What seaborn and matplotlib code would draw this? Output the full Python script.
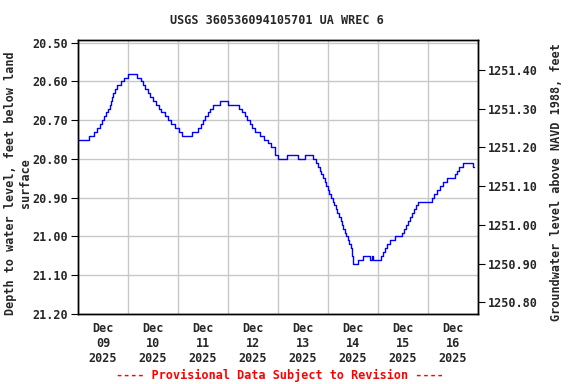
import numpy as np
import pandas as pd
import matplotlib
matplotlib.use("Agg")
import matplotlib.pyplot as plt
import matplotlib.dates as mdates
import seaborn as sns

# ---- data ----
start = "2025-12-09 00:00"
hours = [0, 5.42, 7.68, 9.12, 10.32, 11.38, 12.48, 13.44, 14.4, 15.12, 15.6, 16.18,
         16.8, 17.76, 18.72, 20.64, 22.08, 24.0, 28.32, 30.24, 31.2, 32.4, 33.36,
         34.56, 36.0, 37.44, 38.64, 40.08, 41.76, 43.2, 44.64, 46.56, 48.48, 49.92,
         54.58, 57.6, 59.04, 60.0, 60.96, 62.16, 63.36, 64.8, 68.16, 72.14, 77.28,
         78.72, 79.92, 81.12, 82.32, 83.52, 84.96, 87.36, 89.28, 91.2, 92.64, 94.56,
         95.76, 100.18, 105.74, 108.96, 113.04, 114.24, 115.2, 116.16, 116.88, 117.6,
         118.32, 119.04, 120.0, 120.72, 121.44, 122.16, 122.88, 123.84, 124.56,
         125.28, 126.0, 126.72, 127.34, 128.16, 128.88, 129.36, 130.08, 130.8,
         131.28, 131.52, 131.86, 132.0, 134.54, 136.66, 140.16, 141.12, 141.6,
         145.44, 146.4, 147.36, 148.32, 149.76, 152.16, 155.52, 156.48, 157.44,
         158.4, 159.36, 160.32, 161.28, 162.24, 163.34, 169.92, 170.88, 172.32,
         173.76, 175.2, 176.98, 180.96, 181.92, 182.88, 184.66, 189.46, 189.84]
depth = [20.75, 20.74, 20.73, 20.72, 20.71, 20.70, 20.69, 20.68, 20.67, 20.66, 20.65,
         20.64, 20.63, 20.62, 20.61, 20.60, 20.59, 20.58, 20.59, 20.60, 20.61, 20.62,
         20.63, 20.64, 20.65, 20.66, 20.67, 20.68, 20.69, 20.70, 20.71, 20.72, 20.73,
         20.74, 20.73, 20.72, 20.71, 20.70, 20.69, 20.68, 20.67, 20.66, 20.65, 20.66,
         20.67, 20.68, 20.69, 20.70, 20.71, 20.72, 20.73, 20.74, 20.75, 20.76, 20.77,
         20.79, 20.80, 20.79, 20.80, 20.79, 20.80, 20.81, 20.82, 20.83, 20.84, 20.85,
         20.86, 20.87, 20.88, 20.89, 20.90, 20.91, 20.92, 20.93, 20.94, 20.95, 20.96,
         20.97, 20.98, 20.99, 21.00, 21.01, 21.02, 21.03, 21.04, 21.05, 21.06, 21.07,
         21.06, 21.05, 21.06, 21.05, 21.06, 21.05, 21.04, 21.03, 21.02, 21.01, 21.00,
         20.99, 20.98, 20.97, 20.96, 20.95, 20.94, 20.93, 20.92, 20.91, 20.90, 20.89,
         20.88, 20.87, 20.86, 20.85, 20.84, 20.83, 20.82, 20.81, 20.82, 20.82]
datum = 1271.97
left_ticks = [20.50, 20.60, 20.70, 20.80, 20.90, 21.00, 21.10, 21.20]
right_ticks = [1250.80, 1250.90, 1251.00, 1251.10, 1251.20, 1251.30, 1251.40]
day_labels = ["Dec\n09\n2025", "Dec\n10\n2025", "Dec\n11\n2025", "Dec\n12\n2025",
              "Dec\n13\n2025", "Dec\n14\n2025", "Dec\n15\n2025", "Dec\n16\n2025"]
title = "USGS 360536094105701 UA WREC 6"
left_label = "Depth to water level, feet below land\nsurface"
right_label = "Groundwater level above NAVD 1988, feet"
footer = "---- Provisional Data Subject to Revision ----"

t0 = pd.Timestamp(start)
df = pd.DataFrame({"time": t0 + pd.to_timedelta(hours, unit="h"), "depth": depth})

sns.set_style("white")
plt.rcParams["font.family"] = ["DejaVu Sans Mono"]
plt.rcParams["font.weight"] = "bold"
FS = 8.5

fig = plt.figure(figsize=(5.76, 3.84), dpi=100)
ax = fig.add_axes([78/576, 1-314/384, 400/576, 274/384])

sns.lineplot(data=df, x="time", y="depth", ax=ax, color="#0000FF",
             linewidth=1.0, drawstyle="steps-post", legend=False)

ax.set_xlim(t0, t0 + pd.Timedelta(days=8))
ax.set_ylim(21.2, 20.493)

days = [t0 + pd.Timedelta(days=i) for i in range(9)]
noons = [t0 + pd.Timedelta(hours=12 + 24*i) for i in range(8)]
ax.set_xticks(days)
ax.set_xticklabels([])
ax.set_xticks(noons, minor=True)
ax.set_xticklabels(day_labels, minor=True, fontsize=FS, fontweight="bold")
ax.tick_params(axis="x", which="both", length=0, pad=6)

ax.set_yticks(left_ticks)
ax.set_yticklabels([f"{v:.2f}" for v in left_ticks], fontsize=FS, fontweight="bold")
ax.tick_params(axis="y", which="major", length=5, direction="out", color="black",
               left=True, width=0.8, pad=2)

ax.grid(True, which="major", color="#c8c8c8", linewidth=1.0)
ax.set_axisbelow(True)
for s in ax.spines.values():
    s.set_color("black")
    s.set_linewidth(1.0)

ax.set_xlabel("")
ax.set_ylabel("")

ax2 = ax.twinx()
ax2.set_ylim(datum - 21.2, datum - 20.493)
ax2.set_yticks(right_ticks)
ax2.set_yticklabels([f"{v:.2f}" for v in right_ticks], fontsize=FS, fontweight="bold")
ax2.tick_params(axis="y", length=5, direction="out", color="black", right=True,
                width=0.8, pad=2)
ax2.set_ylabel("")
ax2.grid(False)
for s in ax2.spines.values():
    s.set_color("black")
    s.set_linewidth(1.0)

fig.text(18/576, 1-183/384, left_label, rotation=90, ha="center", va="center",
         multialignment="center", fontsize=FS, fontweight="bold", linespacing=1.15)
fig.text(556/576, 1-182/384, right_label, rotation=90, ha="center", va="center",
         fontsize=FS, fontweight="bold")
fig.text(277/576, 1-20/384, title, ha="center", va="center", fontsize=FS,
         fontweight="bold")
fig.text(280/576, 1-375/384, footer, ha="center", va="center", fontsize=FS,
         fontweight="bold", color="#FF0000")

fig.savefig("out.png", dpi=100)
